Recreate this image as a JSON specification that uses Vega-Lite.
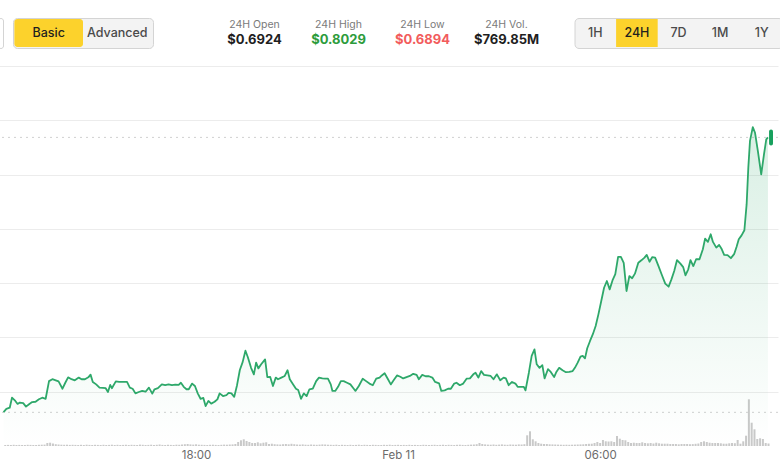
{
  "$schema": "https://vega.github.io/schema/vega-lite/v6.json",
  "background": "#ffffff",
  "padding": {"left": -3, "top": 17, "right": 0, "bottom": 0},
  "spacing": 17,
  "config": {"view": {"stroke": null}, "font": "Inter", "axisY": {"minExtent": 0, "maxExtent": 0, "tickSize": 0, "labelPadding": 0, "offset": 0}},
  "datasets": {
    "modes": [{"mode": "Basic", "active": true}, {"mode": "Advanced", "active": false}],
    "stats": [
      {"stat": "24H Open", "display": "$0.6924"},
      {"stat": "24H High", "display": "$0.8029"},
      {"stat": "24H Low", "display": "$0.6894"},
      {"stat": "24H Vol.", "display": "$769.85M"}
    ],
    "ranges": [
      {"range": "1H", "active": false},
      {"range": "24H", "active": true},
      {"range": "7D", "active": false},
      {"range": "1M", "active": false},
      {"range": "1Y", "active": false}
    ],
    "levels": [{"level": "open", "price": 0.6924}, {"level": "current", "price": 0.7937}],
    "price": [
      {"m":737,"p":0.6925},{"m":742,"p":0.6937},{"m":748,"p":0.6941},{"m":752,"p":0.6978},{"m":758,"p":0.6966},{"m":762,"p":0.6955},{"m":766,"p":0.6960},{"m":772,"p":0.6958},{"m":777,"p":0.6945},
      {"m":783,"p":0.6955},{"m":788,"p":0.6962},{"m":794,"p":0.6963},{"m":800,"p":0.6972},{"m":806,"p":0.6978},{"m":812,"p":0.6974},{"m":818,"p":0.7039},{"m":824,"p":0.7046},{"m":830,"p":0.7042},{"m":835,"p":0.7038},
      {"m":842,"p":0.7011},{"m":847,"p":0.7033},{"m":852,"p":0.7053},{"m":858,"p":0.7046},{"m":864,"p":0.7042},{"m":871,"p":0.7052},{"m":876,"p":0.7046},{"m":882,"p":0.7046},{"m":888,"p":0.7053},{"m":892,"p":0.7063},{"m":896,"p":0.7036},
      {"m":902,"p":0.7027},{"m":908,"p":0.7015},{"m":914,"p":0.7014},{"m":919,"p":0.7013},{"m":923,"p":0.6999},{"m":927,"p":0.7025},{"m":930,"p":0.7013},{"m":937,"p":0.7038},{"m":943,"p":0.7036},{"m":949,"p":0.7036},{"m":957,"p":0.7036},
      {"m":962,"p":0.7015},{"m":967,"p":0.7011},{"m":972,"p":0.6994},{"m":978,"p":0.6999},{"m":984,"p":0.7003},{"m":990,"p":0.7000},{"m":996,"p":0.7015},{"m":1002,"p":0.6993},{"m":1006,"p":0.7009},{"m":1012,"p":0.7013},{"m":1019,"p":0.7027},
      {"m":1025,"p":0.7024},{"m":1031,"p":0.7027},{"m":1037,"p":0.7024},{"m":1043,"p":0.7026},{"m":1049,"p":0.7025},{"m":1053,"p":0.7033},{"m":1058,"p":0.7018},{"m":1063,"p":0.7009},{"m":1067,"p":0.7009},{"m":1073,"p":0.7030},{"m":1078,"p":0.7021},
      {"m":1083,"p":0.6994},{"m":1088,"p":0.6974},{"m":1093,"p":0.6977},{"m":1097,"p":0.6947},{"m":1102,"p":0.6966},{"m":1107,"p":0.6956},{"m":1113,"p":0.6963},{"m":1118,"p":0.6972},{"m":1122,"p":0.6994},{"m":1128,"p":0.6984},{"m":1134,"p":0.6987},{"m":1138,"p":0.6996},
      {"m":1143,"p":0.6994},{"m":1148,"p":0.6981},{"m":1153,"p":0.7024},{"m":1158,"p":0.7080},{"m":1163,"p":0.7109},{"m":1168,"p":0.7151},{"m":1172,"p":0.7129},{"m":1178,"p":0.7088},{"m":1183,"p":0.7064},{"m":1187,"p":0.7107},{"m":1191,"p":0.7086},{"m":1196,"p":0.7101},
      {"m":1203,"p":0.7119},{"m":1207,"p":0.7054},{"m":1212,"p":0.7055},{"m":1217,"p":0.7021},{"m":1222,"p":0.7052},{"m":1226,"p":0.7046},{"m":1232,"p":0.7052},{"m":1238,"p":0.7058},{"m":1243,"p":0.7079},{"m":1247,"p":0.7046},{"m":1253,"p":0.7027},{"m":1258,"p":0.7011},
      {"m":1262,"p":0.7006},{"m":1267,"p":0.6974},{"m":1272,"p":0.6994},{"m":1277,"p":0.6984},{"m":1282,"p":0.7009},{"m":1288,"p":0.7011},{"m":1294,"p":0.7039},{"m":1299,"p":0.7052},{"m":1305,"p":0.7049},{"m":1310,"p":0.7048},{"m":1315,"p":0.7048},
      {"m":1320,"p":0.7027},{"m":1323,"p":0.7003},{"m":1328,"p":0.7003},{"m":1333,"p":0.7018},{"m":1338,"p":0.7039},{"m":1343,"p":0.7039},{"m":1349,"p":0.7033},{"m":1355,"p":0.7027},{"m":1361,"p":0.7011},{"m":1364,"p":0.7003},{"m":1370,"p":0.7021},{"m":1377,"p":0.7048},
      {"m":1383,"p":0.7039},{"m":1389,"p":0.7030},{"m":1395,"p":0.7024},{"m":1401,"p":0.7048},{"m":1407,"p":0.7052},{"m":1411,"p":0.7060},{"m":1416,"p":0.7068},{"m":1422,"p":0.7046},{"m":1427,"p":0.7027},{"m":1432,"p":0.7042},{"m":1438,"p":0.7060},
      {"m":1444,"p":0.7055},{"m":1449,"p":0.7049},{"m":1455,"p":0.7054},{"m":1461,"p":0.7058},{"m":1467,"p":0.7066},{"m":1473,"p":0.7062},{"m":1477,"p":0.7046},{"m":1483,"p":0.7062},{"m":1489,"p":0.7057},{"m":1495,"p":0.7057},
      {"m":1501,"p":0.7052},{"m":1506,"p":0.7036},{"m":1513,"p":0.7031},{"m":1517,"p":0.7003},{"m":1523,"p":0.7005},{"m":1529,"p":0.7011},{"m":1534,"p":0.7011},{"m":1540,"p":0.7030},{"m":1544,"p":0.7033},{"m":1550,"p":0.7024},{"m":1556,"p":0.7030},
      {"m":1562,"p":0.7048},{"m":1568,"p":0.7049},{"m":1574,"p":0.7064},{"m":1578,"p":0.7070},{"m":1583,"p":0.7052},{"m":1588,"p":0.7076},{"m":1593,"p":0.7062},{"m":1599,"p":0.7060},{"m":1605,"p":0.7058},{"m":1610,"p":0.7046},{"m":1616,"p":0.7064},
      {"m":1622,"p":0.7042},{"m":1628,"p":0.7052},{"m":1632,"p":0.7049},{"m":1637,"p":0.7024},{"m":1643,"p":0.7036},{"m":1649,"p":0.7030},{"m":1653,"p":0.7018},{"m":1659,"p":0.7018},{"m":1664,"p":0.7018},{"m":1667,"p":0.7005},{"m":1673,"p":0.7070},{"m":1678,"p":0.7132},
      {"m":1683,"p":0.7156},{"m":1687,"p":0.7101},{"m":1692,"p":0.7088},{"m":1697,"p":0.7098},{"m":1701,"p":0.7049},{"m":1707,"p":0.7083},{"m":1712,"p":0.7073},{"m":1718,"p":0.7054},{"m":1722,"p":0.7073},{"m":1727,"p":0.7088},{"m":1733,"p":0.7079},{"m":1739,"p":0.7072},
      {"m":1745,"p":0.7073},{"m":1751,"p":0.7076},{"m":1755,"p":0.7088},{"m":1760,"p":0.7107},{"m":1765,"p":0.7129},{"m":1769,"p":0.7132},{"m":1773,"p":0.7123},{"m":1777,"p":0.7160},{"m":1782,"p":0.7187},{"m":1787,"p":0.7212},{"m":1792,"p":0.7242},{"m":1797,"p":0.7286},
      {"m":1802,"p":0.7334},{"m":1807,"p":0.7383},{"m":1812,"p":0.7408},{"m":1817,"p":0.7377},{"m":1822,"p":0.7410},{"m":1827,"p":0.7433},{"m":1832,"p":0.7497},{"m":1837,"p":0.7497},{"m":1842,"p":0.7475},{"m":1847,"p":0.7371},{"m":1852,"p":0.7426},{"m":1857,"p":0.7418},
      {"m":1862,"p":0.7435},{"m":1868,"p":0.7475},{"m":1874,"p":0.7485},{"m":1879,"p":0.7494},{"m":1883,"p":0.7504},{"m":1888,"p":0.7479},{"m":1893,"p":0.7496},{"m":1898,"p":0.7494},{"m":1904,"p":0.7463},{"m":1910,"p":0.7430},{"m":1916,"p":0.7398},
      {"m":1922,"p":0.7387},{"m":1927,"p":0.7414},{"m":1932,"p":0.7445},{"m":1937,"p":0.7485},{"m":1943,"p":0.7472},{"m":1948,"p":0.7459},{"m":1952,"p":0.7429},{"m":1957,"p":0.7451},{"m":1961,"p":0.7485},{"m":1966,"p":0.7463},{"m":1971,"p":0.7488},{"m":1977,"p":0.7488},
      {"m":1983,"p":0.7525},{"m":1987,"p":0.7564},{"m":1992,"p":0.7552},{"m":1997,"p":0.7580},{"m":2001,"p":0.7552},{"m":2007,"p":0.7531},{"m":2012,"p":0.7541},{"m":2016,"p":0.7528},{"m":2021,"p":0.7504},{"m":2027,"p":0.7503},{"m":2033,"p":0.7492},{"m":2039,"p":0.7508},
      {"m":2043,"p":0.7533},{"m":2047,"p":0.7562},{"m":2052,"p":0.7576},{"m":2057,"p":0.7595},{"m":2061,"p":0.7690},{"m":2064,"p":0.7825},{"m":2067,"p":0.7924},{"m":2072,"p":0.7975},{"m":2076,"p":0.7954},{"m":2081,"p":0.7887},{"m":2087,"p":0.7801},{"m":2092,"p":0.7875},{"m":2096,"p":0.7930},{"m":2099,"p":0.7937}
    ],
    "vol": [
      {"m":740,"v":1.0},{"m":745,"v":1.1},{"m":750,"v":1.0},{"m":755,"v":1.2},{"m":760,"v":1.0},{"m":765,"v":1.1},{"m":770,"v":1.0},{"m":775,"v":1.0},
      {"m":780,"v":1.2},{"m":785,"v":1.1},{"m":790,"v":1.0},{"m":795,"v":1.0},{"m":800,"v":1.2},{"m":805,"v":1.3},{"m":810,"v":1.4},{"m":815,"v":3.0},{"m":820,"v":3.3},{"m":825,"v":2.5},{"m":830,"v":1.8},{"m":835,"v":1.5},
      {"m":840,"v":1.3},{"m":845,"v":1.2},{"m":850,"v":1.3},{"m":855,"v":1.1},{"m":860,"v":1.2},{"m":865,"v":1.1},{"m":870,"v":1.0},{"m":875,"v":1.2},{"m":880,"v":1.0},{"m":885,"v":1.3},{"m":890,"v":1.1},{"m":895,"v":1.0},
      {"m":900,"v":1.2},{"m":905,"v":1.1},{"m":910,"v":1.0},{"m":915,"v":1.2},{"m":920,"v":1.0},{"m":925,"v":1.1},{"m":930,"v":1.3},{"m":935,"v":1.0},{"m":940,"v":1.2},{"m":945,"v":1.0},{"m":950,"v":1.1},{"m":955,"v":1.3},
      {"m":960,"v":1.0},{"m":965,"v":1.2},{"m":970,"v":1.1},{"m":975,"v":1.0},{"m":980,"v":1.4},{"m":985,"v":1.2},{"m":990,"v":1.0},{"m":995,"v":1.1},{"m":1000,"v":1.3},{"m":1005,"v":1.0},{"m":1010,"v":1.2},{"m":1015,"v":1.5},
      {"m":1020,"v":1.1},{"m":1025,"v":1.0},{"m":1030,"v":1.2},{"m":1035,"v":1.1},{"m":1040,"v":1.0},{"m":1045,"v":1.3},{"m":1050,"v":1.2},{"m":1055,"v":1.5},{"m":1060,"v":1.8},{"m":1065,"v":2.0},{"m":1070,"v":1.6},{"m":1075,"v":1.4},
      {"m":1080,"v":1.7},{"m":1085,"v":1.3},{"m":1090,"v":1.2},{"m":1095,"v":1.1},{"m":1100,"v":1.0},{"m":1105,"v":1.2},{"m":1110,"v":1.3},{"m":1115,"v":1.1},{"m":1120,"v":1.0},{"m":1125,"v":1.2},{"m":1130,"v":1.4},{"m":1135,"v":1.3},
      {"m":1140,"v":1.5},{"m":1145,"v":1.6},{"m":1150,"v":2.0},{"m":1155,"v":4.0},{"m":1160,"v":5.7},{"m":1165,"v":6.7},{"m":1170,"v":5.0},{"m":1175,"v":4.0},{"m":1180,"v":3.0},{"m":1185,"v":3.0},{"m":1190,"v":3.7},{"m":1195,"v":2.7},
      {"m":1200,"v":3.3},{"m":1205,"v":3.7},{"m":1210,"v":2.0},{"m":1215,"v":2.3},{"m":1220,"v":1.8},{"m":1225,"v":1.6},{"m":1230,"v":1.5},{"m":1235,"v":1.8},{"m":1240,"v":2.0},{"m":1245,"v":1.7},{"m":1250,"v":2.2},{"m":1255,"v":1.8},
      {"m":1260,"v":1.5},{"m":1265,"v":1.4},{"m":1270,"v":1.6},{"m":1275,"v":1.3},{"m":1280,"v":1.2},{"m":1285,"v":1.5},{"m":1290,"v":1.3},{"m":1295,"v":1.2},{"m":1300,"v":1.4},{"m":1305,"v":1.6},{"m":1310,"v":1.5},{"m":1315,"v":1.3},
      {"m":1320,"v":1.2},{"m":1325,"v":1.1},{"m":1330,"v":1.3},{"m":1335,"v":1.0},{"m":1340,"v":1.2},{"m":1345,"v":1.1},{"m":1350,"v":1.0},{"m":1355,"v":1.2},{"m":1360,"v":1.0},{"m":1365,"v":1.1},{"m":1370,"v":1.3},{"m":1375,"v":1.0},
      {"m":1380,"v":1.2},{"m":1385,"v":1.1},{"m":1390,"v":1.0},{"m":1395,"v":1.2},{"m":1400,"v":1.1},{"m":1405,"v":1.0},{"m":1410,"v":1.0},{"m":1415,"v":1.2},{"m":1420,"v":1.1},{"m":1425,"v":1.3},{"m":1430,"v":1.0},{"m":1435,"v":1.1},
      {"m":1440,"v":1.2},{"m":1445,"v":1.0},{"m":1450,"v":1.1},{"m":1455,"v":1.0},{"m":1460,"v":1.2},{"m":1465,"v":1.0},{"m":1470,"v":1.1},{"m":1475,"v":1.0},{"m":1480,"v":1.0},{"m":1485,"v":1.2},{"m":1490,"v":1.1},{"m":1495,"v":1.0},
      {"m":1500,"v":1.1},{"m":1505,"v":1.2},{"m":1510,"v":1.0},{"m":1515,"v":1.1},{"m":1520,"v":1.3},{"m":1525,"v":1.0},{"m":1530,"v":1.2},{"m":1535,"v":1.1},{"m":1540,"v":1.0},{"m":1545,"v":1.2},{"m":1550,"v":1.3},{"m":1555,"v":1.1},
      {"m":1560,"v":1.0},{"m":1565,"v":1.2},{"m":1570,"v":1.4},{"m":1575,"v":1.5},{"m":1580,"v":1.8},{"m":1585,"v":3.0},{"m":1590,"v":2.0},{"m":1595,"v":1.6},{"m":1600,"v":1.4},{"m":1605,"v":1.3},{"m":1610,"v":1.5},{"m":1615,"v":1.2},
      {"m":1620,"v":1.4},{"m":1625,"v":1.6},{"m":1630,"v":1.3},{"m":1635,"v":1.2},{"m":1640,"v":1.5},{"m":1645,"v":1.4},{"m":1650,"v":1.3},{"m":1655,"v":1.6},{"m":1660,"v":1.5},{"m":1665,"v":1.8},{"m":1670,"v":10.7},{"m":1675,"v":14.7},
      {"m":1680,"v":6.7},{"m":1685,"v":4.7},{"m":1690,"v":3.0},{"m":1695,"v":2.3},{"m":1700,"v":2.0},{"m":1705,"v":2.0},{"m":1710,"v":1.7},{"m":1715,"v":1.6},{"m":1720,"v":1.5},{"m":1725,"v":1.4},{"m":1730,"v":1.3},{"m":1735,"v":1.2},
      {"m":1740,"v":1.3},{"m":1745,"v":1.2},{"m":1750,"v":1.3},{"m":1755,"v":1.4},{"m":1760,"v":1.5},{"m":1765,"v":1.6},{"m":1770,"v":1.7},{"m":1775,"v":2.0},{"m":1780,"v":2.2},{"m":1785,"v":2.3},{"m":1790,"v":3.0},{"m":1795,"v":4.0},
      {"m":1800,"v":3.0},{"m":1805,"v":6.0},{"m":1810,"v":4.7},{"m":1815,"v":4.5},{"m":1820,"v":4.7},{"m":1825,"v":4.0},{"m":1830,"v":10.0},{"m":1835,"v":7.3},{"m":1840,"v":6.0},{"m":1845,"v":5.7},{"m":1850,"v":4.0},{"m":1855,"v":3.0},
      {"m":1860,"v":3.3},{"m":1865,"v":3.0},{"m":1870,"v":3.0},{"m":1875,"v":3.7},{"m":1880,"v":3.0},{"m":1885,"v":2.7},{"m":1890,"v":3.0},{"m":1895,"v":2.5},{"m":1900,"v":3.3},{"m":1905,"v":2.7},{"m":1910,"v":2.3},{"m":1915,"v":2.3},
      {"m":1920,"v":2.3},{"m":1925,"v":2.0},{"m":1930,"v":2.0},{"m":1935,"v":2.0},{"m":1940,"v":1.7},{"m":1945,"v":2.0},{"m":1950,"v":2.0},{"m":1955,"v":2.0},{"m":1960,"v":1.8},{"m":1965,"v":1.9},{"m":1970,"v":2.2},{"m":1975,"v":2.5},
      {"m":1980,"v":4.0},{"m":1985,"v":4.7},{"m":1990,"v":4.0},{"m":1995,"v":3.3},{"m":2000,"v":3.0},{"m":2005,"v":3.0},{"m":2010,"v":3.0},{"m":2015,"v":2.7},{"m":2020,"v":2.3},{"m":2025,"v":2.3},{"m":2030,"v":2.7},{"m":2035,"v":3.0},
      {"m":2040,"v":2.8},{"m":2045,"v":6.0},{"m":2050,"v":2.3},{"m":2055,"v":4.7},{"m":2060,"v":10.3},{"m":2065,"v":46.7},{"m":2070,"v":23.3},{"m":2075,"v":16.7},{"m":2080,"v":7.0},{"m":2085,"v":7.7},{"m":2090,"v":7.0},{"m":2095,"v":3.0},
      {"m":2100,"v":2.5}
    ]
  },
  "vconcat": [
    {
      "spacing": 24.5,
      "hconcat": [
        {
          "spacing": 58.5,
          "hconcat": [
            {
              "spacing": 8,
              "hconcat": [
                {
                  "width": 5,
                  "height": 30,
                  "view": {"fill": "#ffffff", "stroke": "#d4d4d4", "cornerRadius": 4},
                  "data": {"values": [{"control": "more"}]},
                  "mark": {"type": "text"},
                  "encoding": {"text": {"value": ""}}
                },
                {
                  "width": 140,
                  "height": 30,
                  "view": {"fill": "#f3f3f3", "stroke": "#d4d4d4", "cornerRadius": 4},
                  "data": {"name": "modes"},
                  "encoding": {
                    "x": {"field": "mode", "type": "nominal", "axis": null, "scale": {"domain": ["Basic", "Advanced"], "paddingInner": 0, "paddingOuter": 0.02}}
                  },
                  "layer": [
                    {
                      "transform": [{"filter": "datum.active"}],
                      "mark": {"type": "bar", "color": "#fcd22c", "cornerRadius": 3},
                      "encoding": {"y": {"datum": "on", "type": "nominal", "axis": null, "scale": {"paddingInner": 0, "paddingOuter": 0.04}}}
                    },
                    {
                      "mark": {"type": "text", "fontSize": 12.5, "fontWeight": 500},
                      "encoding": {
                        "text": {"field": "mode"},
                        "color": {"condition": {"test": "datum.active", "value": "#1f1f1f"}, "value": "#4a4a4a"}
                      }
                    }
                  ]
                }
              ]
            },
            {
              "width": 336,
              "height": 30,
              "data": {"name": "stats"},
              "encoding": {
                "x": {"field": "stat", "type": "nominal", "axis": null, "scale": {"domain": ["24H Open", "24H High", "24H Low", "24H Vol."], "paddingInner": 0, "paddingOuter": 0}}
              },
              "layer": [
                {
                  "mark": {"type": "text", "fontSize": 10.5, "dy": -8.5, "color": "#7a7a7a"},
                  "encoding": {"text": {"field": "stat"}}
                },
                {
                  "mark": {"type": "text", "fontSize": 13, "fontWeight": "bold", "dy": 7},
                  "encoding": {
                    "text": {"field": "display"},
                    "color": {"field": "stat", "type": "nominal", "legend": null, "scale": {"domain": ["24H Open", "24H High", "24H Low", "24H Vol."], "range": ["#1f1f1f", "#2d9c3c", "#f25c5c", "#1f1f1f"]}}
                  }
                }
              ]
            }
          ]
        },
        {
          "width": 208,
          "height": 30,
          "view": {"fill": "#f3f3f3", "stroke": "#d4d4d4", "cornerRadius": 4},
          "data": {"name": "ranges"},
          "encoding": {
            "x": {"field": "range", "type": "nominal", "axis": null, "scale": {"domain": ["1H", "24H", "7D", "1M", "1Y"], "paddingInner": 0, "paddingOuter": 0}}
          },
          "layer": [
            {
              "transform": [{"filter": "datum.active"}],
              "mark": {"type": "bar", "color": "#fcd22c"},
              "encoding": {"y": {"datum": "on", "type": "nominal", "axis": null, "scale": {"paddingInner": 0, "paddingOuter": 0.04}}}
            },
            {
              "mark": {"type": "text", "fontSize": 12.5, "fontWeight": 500},
              "encoding": {
                "text": {"field": "range"},
                "color": {"condition": {"test": "datum.active", "value": "#1f1f1f"}, "value": "#4a4a4a"}
              }
            }
          ]
        }
      ]
    },
    {
      "width": 780,
      "height": 380,
      "layer": [
        {
          "data": {"name": "vol"},
          "mark": {"type": "bar", "orient": "vertical", "width": 2, "color": "#c9c9c9"},
          "encoding": {
            "x": {"field": "m", "type": "quantitative", "title": null,
              "scale": {"domain": [736, 2108], "zero": false, "nice": false},
              "axis": {"values": [1080, 1440, 1800], "labelExpr": "datum.value == 1440 ? 'Feb 11' : format(floor((datum.value % 1440) / 60), '02d') + ':00'", "grid": false, "domain": false, "ticks": false, "labelPadding": 3, "labelFontSize": 11.5, "labelColor": "#6b6b6b", "labelFont": "Inter"}},
            "y": {"field": "v", "type": "quantitative", "axis": null, "scale": {"domain": [0, 380]}}
          }
        },
        {
          "data": {"name": "levels"},
          "mark": {"type": "rule", "strokeDash": [2, 4], "color": "#d0d0d0", "strokeWidth": 1},
          "encoding": {
            "y": {"field": "price", "type": "quantitative", "axis": null, "scale": {"domain": [0.68, 0.82], "zero": false, "nice": false}}
          }
        },
        {
          "data": {"name": "price"},
          "mark": {"type": "area", "color": {"gradient": "linear", "x1": 1, "y1": 1, "x2": 1, "y2": 0, "stops": [{"offset": 0, "color": "rgba(46,168,106,0)"}, {"offset": 1, "color": "rgba(46,168,106,0.18)"}]}},
          "encoding": {
            "x": {"field": "m", "type": "quantitative", "title": null, "scale": {"domain": [736, 2108], "zero": false, "nice": false}},
            "y": {"field": "p", "type": "quantitative", "title": null, "scale": {"domain": [0.68, 0.82], "zero": false, "nice": false},
              "axis": {"values": [0.7, 0.72, 0.74, 0.76, 0.78, 0.8, 0.82], "labels": false, "ticks": false, "domain": false, "grid": true, "gridColor": "#ececec", "gridWidth": 1, "tickSize": 0, "minExtent": 0, "maxExtent": 0, "labelPadding": 0}},
            "y2": {"datum": 0.68}
          }
        },
        {
          "data": {"name": "price"},
          "mark": {"type": "line", "color": "#2ea86a", "strokeWidth": 1.8, "strokeJoin": "round"},
          "encoding": {
            "x": {"field": "m", "type": "quantitative", "title": null, "scale": {"domain": [736, 2108], "zero": false, "nice": false}},
            "y": {"field": "p", "type": "quantitative", "axis": null, "scale": {"domain": [0.68, 0.82], "zero": false, "nice": false}}
          }
        },
        {
          "data": {"name": "levels"},
          "transform": [{"filter": "datum.level == 'current'"}],
          "mark": {"type": "rect", "color": "#17a05d", "clip": true, "cornerRadius": 2},
          "encoding": {
            "x": {"datum": 2101, "type": "quantitative", "title": null, "scale": {"domain": [736, 2108], "zero": false, "nice": false}},
            "x2": {"datum": 2108},
            "y": {"datum": 0.7966, "type": "quantitative", "axis": null, "scale": {"domain": [0.68, 0.82], "zero": false, "nice": false}},
            "y2": {"datum": 0.7907}
          }
        }
      ],
      "resolve": {"scale": {"y": "independent"}, "axis": {"y": "independent"}}
    }
  ]
}
